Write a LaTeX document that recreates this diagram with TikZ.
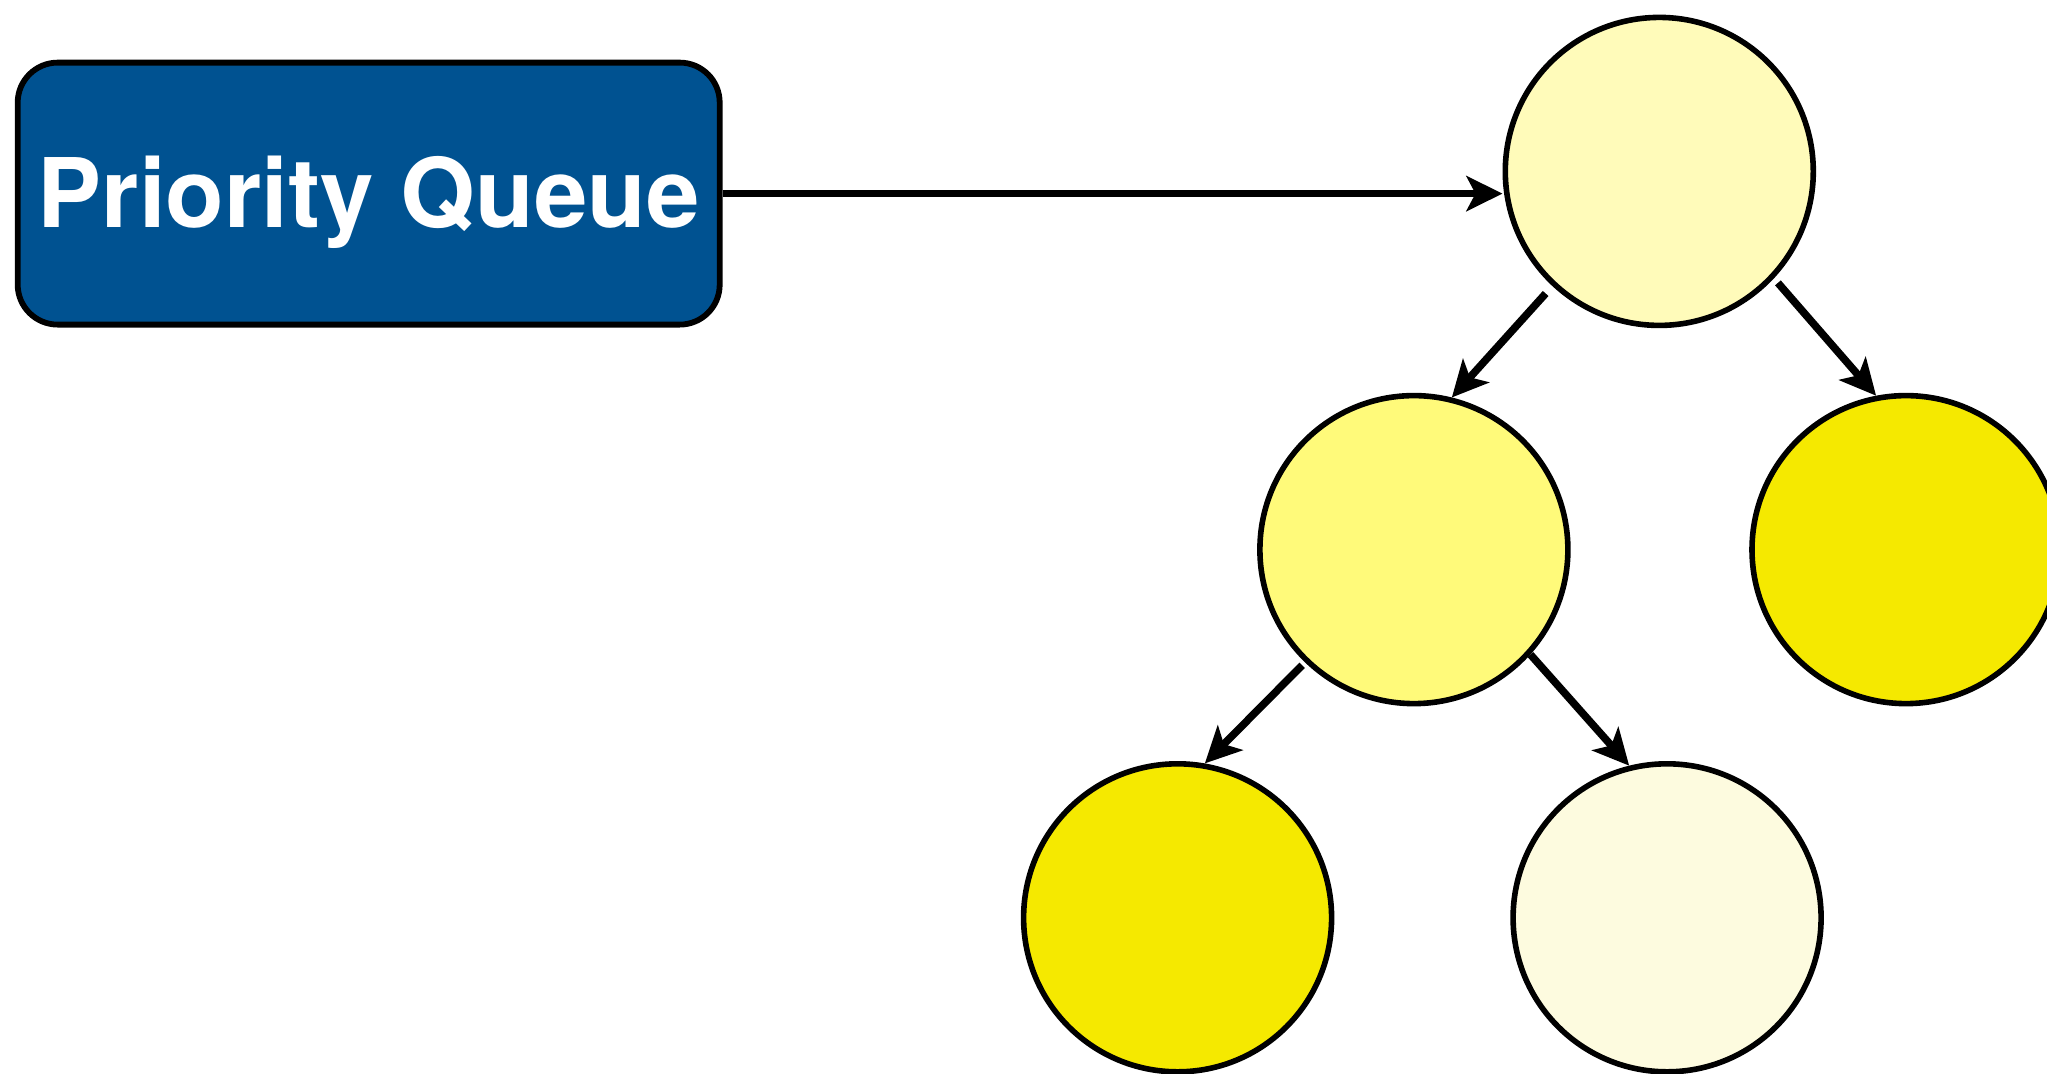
\documentclass[tikz,border=0pt]{standalone}
\usepackage{fontspec}
\setmainfont{TeX Gyre Heros}
\usetikzlibrary{arrows.meta}

\definecolor{pqblue}{RGB}{0,82,145}
\definecolor{paleyellow}{RGB}{255,251,186}
\definecolor{lightyellow}{RGB}{255,250,122}
\definecolor{deepyellow}{RGB}{245,233,0}
\definecolor{creamyellow}{RGB}{253,251,223}

\begin{document}
\begin{tikzpicture}[x=0.5pt,y=-0.5pt,
  queuebox/.style={rectangle, rounded corners=20pt, draw=black, line width=2.9pt,
    fill=pqblue, text=white, minimum width=351pt, minimum height=131pt, inner sep=0pt,
    text height=34pt, text depth=0pt,
    font=\bfseries\fontsize{48pt}{52pt}\selectfont},
  heapnode/.style={circle, draw=black, line width=2.8pt, minimum size=154pt, inner sep=0pt},
  link/.style={line width=3.8pt, -{Stealth[length=18pt, width=17.5pt, inset=4.5pt]}}
]
\useasboundingbox (0,0) rectangle (2047,1073);

% priority queue label box
\node[queuebox] (pq) at (368.7,193.6) {Priority Queue};

% heap nodes
\node[heapnode, fill=paleyellow]  (root) at (1659.3,171.4) {};
\node[heapnode, fill=lightyellow] (l)    at (1413.9,549.6) {};
\node[heapnode, fill=deepyellow]  (r)    at (1906.0,549.6) {};
\node[heapnode, fill=deepyellow]  (ll)   at (1177.6,917.8) {};
\node[heapnode, fill=creamyellow] (lr)   at (1667.1,917.8) {};

% connectors
\draw[link] (pq.east) -- (pq.east -| root.west);
\draw[link, shorten <=5pt] (root.227.5) -- (l.76.5);
\draw[link, shorten <=3pt] (root.317.4) -- (r.101.9);
\draw[link, shorten <=2pt] (l.226.0) -- (ll.80.5);
\draw[link] (l.318.3) -- (lr.104.1);
\end{tikzpicture}
\end{document}
